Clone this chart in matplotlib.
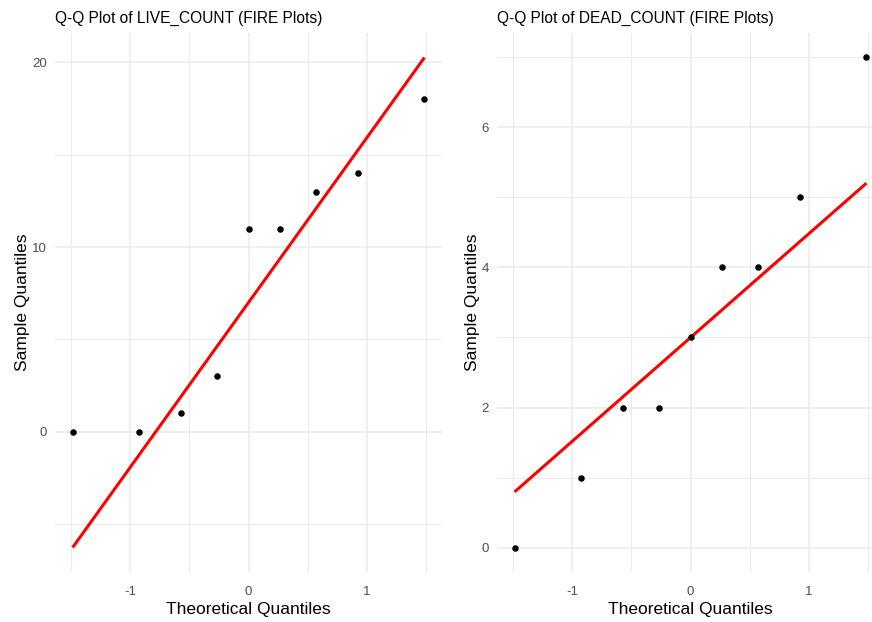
import matplotlib.pyplot as plt
from matplotlib.ticker import MultipleLocator

plt.rcParams['font.family'] = ['Liberation Sans', 'DejaVu Sans']
plt.rcParams['axes.unicode_minus'] = False

# theoretical normal quantiles (same for both panels, n = 9)
THEO = [-1.49, -0.93, -0.57, -0.27, 0.0, 0.27, 0.57, 0.93, 1.49]

LIVE = [0, 0, 1, 3, 11, 11, 13, 14, 18]
DEAD = [0, 1, 2, 2, 3, 4, 4, 5, 7]

# reference lines (intercept, slope) through the quartiles
LIVE_LINE = (7.0, 8.9)
DEAD_LINE = (3.0, 1.48)

W, H = 872, 622
fig = plt.figure(figsize=(W / 100, H / 100), dpi=100)


def panel(left, right, top, bottom, theo, sample, line, title, ystep):
    ax = fig.add_axes([left / W, 1 - bottom / H, (right - left) / W, (bottom - top) / H])
    x0, x1 = min(theo), max(theo)
    b, m = line
    ax.plot([x0, x1], [b + m * x0, b + m * x1], color='red', lw=2.2, zorder=3,
            solid_capstyle='butt')
    ax.scatter(theo, sample, s=22, color='black', zorder=4, linewidths=0)

    xs = x1 - x0
    ax.set_xlim(x0 - 0.05 * xs, x1 + 0.05 * xs)
    lo = min(min(sample), b + m * x0)
    hi = max(max(sample), b + m * x1)
    ys = hi - lo
    ax.set_ylim(lo - 0.05 * ys, hi + 0.05 * ys)

    ax.xaxis.set_major_locator(MultipleLocator(1))
    ax.xaxis.set_minor_locator(MultipleLocator(0.5))
    ax.yaxis.set_major_locator(MultipleLocator(ystep))
    ax.yaxis.set_minor_locator(MultipleLocator(ystep / 2))
    ax.grid(True, which='major', color='#EBEBEB', lw=1.1)
    ax.grid(True, which='minor', color='#EBEBEB', lw=0.7)
    ax.set_axisbelow(True)
    for s in ax.spines.values():
        s.set_visible(False)
    ax.tick_params(which='both', length=0, labelsize=9.5, labelcolor='#4D4D4D')
    ax.tick_params(axis='x', pad=10)
    ax.tick_params(axis='y', pad=6)
    ax.set_xlabel('Theoretical Quantiles', fontsize=12.5, labelpad=3)
    ax.set_ylabel('Sample Quantiles', fontsize=12.5, labelpad=1)
    ax.set_title(title, loc='left', fontsize=11.2, pad=7)
    return ax


panel(55, 442, 33, 572, THEO, LIVE, LIVE_LINE, 'Q-Q Plot of LIVE_COUNT (FIRE Plots)', 10)
panel(497, 884, 33, 572, THEO, DEAD, DEAD_LINE, 'Q-Q Plot of DEAD_COUNT (FIRE Plots)', 2)

fig.savefig('out.png', dpi=100)
